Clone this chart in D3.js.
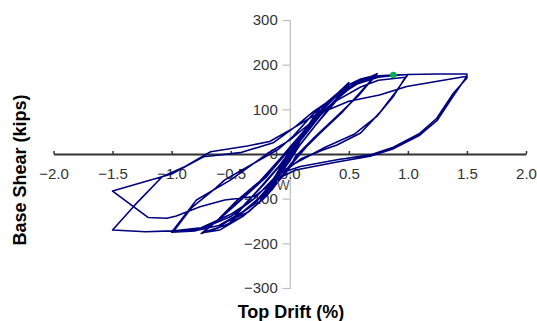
<!DOCTYPE html>
<html>
<head>
<meta charset="utf-8">
<script src="https://cdn.jsdelivr.net/npm/d3@7"></script>
<style>
  body { margin: 0; background: #fff; }
  svg text { font-family: Arial, "Liberation Sans", sans-serif; }
</style>
</head>
<body>
<svg id="chart" width="537" height="321"></svg>
<script>
// top drift (%) vs base shear (kips), one cycle group per array
const cycles010 = [[0,0],[0.05,20],[0.1,40],[0.05,18],[0,0],[-0.05,-22],[-0.1,-45],[-0.05,-25],[0,-5]];
const cycles025 = [[0.1,40],[0.25,100],[0.15,62],[0,8],[-0.12,-50],[-0.25,-105],[-0.15,-72],[0,-15],
  [0.12,45],[0.25,98],[0.14,58],[0,5],[-0.12,-48],[-0.25,-100],[-0.14,-65],[0,-12]];
const cycles050 = [[0.15,60],[0.3,110],[0.42,140],[0.5,160],[0.4,125],[0.25,75],[0.1,25],[0,-10],
  [-0.15,-65],[-0.3,-110],[-0.42,-135],[-0.5,-152],[-0.4,-120],[-0.25,-75],[-0.1,-30],[0,5],
  [0.15,55],[0.3,105],[0.45,145],[0.5,155],[0.38,115],[0.22,65],[0.08,18],[0,-15],
  [-0.15,-68],[-0.3,-112],[-0.45,-140],[-0.5,-150],[-0.38,-112],[-0.22,-68],[-0.08,-25],[0,0]];
const cycles075 = [[0.15,50],[0.3,100],[0.5,145],[0.62,165],[0.74,180],[0.62,145],[0.45,95],[0.25,45],[0.08,0],[0,-25],
  [-0.15,-80],[-0.35,-130],[-0.53,-151],[-0.6,-165],[-0.75,-178],[-0.6,-145],[-0.45,-105],[-0.25,-60],[-0.08,-10],[0,15],
  [0.18,70],[0.3,110],[0.46,150],[0.6,168],[0.73,176],[0.6,138],[0.42,88],[0.22,40],[0.05,-5],[0,-30],
  [-0.2,-95],[-0.4,-140],[-0.59,-170],[-0.74,-176],[-0.62,-150],[-0.47,-115],[-0.3,-75],[-0.1,-20],[0,10],
  [0.2,78],[0.35,120],[0.5,150],[0.72,174],[0.58,130],[0.4,85],[0.2,35],[0,-28],
  [-0.22,-100],[-0.4,-140],[-0.55,-160],[-0.73,-175],[-0.55,-135],[-0.4,-100],[-0.2,-52],[0,12]];
const cycles100 = [[0.2,70],[0.4,125],[0.55,155],[0.75,172],[0.88,176],[1.0,178],[0.9,140],[0.76,92],[0.6,47],[0.4,20],[0.28,9],[0.1,-10],[0,-30],
  [-0.2,-85],[-0.4,-130],[-0.6,-160],[-0.8,-172],[-1.0,-175],[-0.79,-103],[-0.5,-58],[-0.19,1],[0,31],
  [0.2,75],[0.4,120],[0.6,150],[0.75,165],[0.98,172],[0.88,130],[0.74,85],[0.55,45],[0.3,15],[0.05,-20],
  [-0.1,-45],[-0.3,-100],[-0.5,-135],[-0.75,-165],[-0.98,-172],[-0.83,-120],[-0.63,-77],[-0.55,-58],[-0.3,-20],[-0.1,10],[0.03,40]];
const cycles150 = [[0.2,90],[0.4,135],[0.6,165],[0.75,175],[1.0,178],[1.25,179],[1.5,179],[1.5,170],
  [1.385,136],[1.245,80],[1.1,46],[0.877,15],[0.68,-2],[0.4,-13],[0.09,-28],[-0.1,-45],
  [-0.3,-100],[-0.5,-140],[-0.75,-168],[-1.0,-172],[-1.22,-174],[-1.5,-170],
  [-1.31,-114],[-1.08,-51],[-0.885,-28],[-0.67,5],[-0.36,18],[-0.17,28],[0.03,58],
  [0.2,85],[0.5,118],[0.76,132],[0.99,151],[1.25,163],[1.5,174],
  [1.39,132],[1.25,76],[1.1,42],[0.88,12],[0.68,-5],[0.4,-18],[0.05,-36],[-0.1,-55],
  [-0.3,-95],[-0.55,-103],[-0.76,-118],[-0.96,-139],[-1.04,-144],[-1.2,-142],[-1.5,-83],
  [-1.2,-60],[-1.0,-45],[-0.73,-6],[-0.42,3],[-0.14,25],[0.05,62]];
const finalLoad = [[0.2,95],[0.45,140],[0.6,162],[0.75,175],[0.877,177]];
const marker = [0.877, 177];

const xTicks = [-2.0, -1.5, -1.0, -0.5, 0.0, 0.5, 1.0, 1.5, 2.0];
const yTicks = [-300, -200, -100, 0, 100, 200, 300];

const path = [].concat(cycles010, cycles025, cycles050, cycles075, cycles100, cycles150, finalLoad);

const svg = d3.select("#chart");

const x = d3.scaleLinear().domain([-2, 2]).range([53.5, 526]);
const y = d3.scaleLinear().domain([-300, 300]).range([288, 20]);

// y axis (light gray, at drift 0)
const yAxis = svg.append("g")
  .attr("transform", "translate(" + x(0) + ",0)")
  .call(d3.axisLeft(y).tickValues(yTicks).tickSize(7).tickPadding(5).tickFormat(d3.format("d")));
yAxis.select(".domain").attr("stroke", "#bdbdbd").attr("stroke-width", 1.2);
yAxis.selectAll(".tick line").attr("stroke", "#bdbdbd").attr("stroke-width", 1.2);
yAxis.selectAll(".tick text").attr("fill", "#333").style("font-size", "15px");

// x axis (dark, at shear 0) with ticks pointing up
const xAxis = svg.append("g")
  .attr("transform", "translate(0," + y(0) + ")")
  .call(d3.axisBottom(x).tickValues(xTicks).tickSizeInner(-3).tickSizeOuter(0).tickPadding(14).tickFormat(d3.format(".1f")));
xAxis.select(".domain").attr("stroke", "#333").attr("stroke-width", 2);
xAxis.selectAll(".tick line").attr("stroke", "#333").attr("stroke-width", 1.5);
xAxis.selectAll(".tick text").attr("fill", "#333").style("font-size", "15px").attr("dy", "0.71em");

// hysteresis curve
const line = d3.line().x(d => x(d[0])).y(d => y(d[1]));
svg.append("path")
  .datum(path)
  .attr("d", line)
  .attr("fill", "none")
  .attr("stroke", "#000080")
  .attr("stroke-width", 1.6)
  .attr("stroke-linejoin", "round");

svg.append("circle")
  .attr("cx", x(marker[0]))
  .attr("cy", y(marker[1]))
  .attr("r", 3.2)
  .attr("fill", "#00b050");

svg.append("text")
  .attr("x", 283).attr("y", 190)
  .attr("text-anchor", "middle")
  .attr("fill", "#555")
  .style("font-size", "14px")
  .text("W");

// axis titles
svg.append("text")
  .attr("x", 291).attr("y", 318)
  .attr("text-anchor", "middle")
  .style("font-size", "18px").style("font-weight", "bold")
  .text("Top Drift (%)");

svg.append("text")
  .attr("transform", "translate(26,170) rotate(-90)")
  .attr("text-anchor", "middle")
  .style("font-size", "18px").style("font-weight", "bold")
  .text("Base Shear (kips)");
</script>
</body>
</html>
